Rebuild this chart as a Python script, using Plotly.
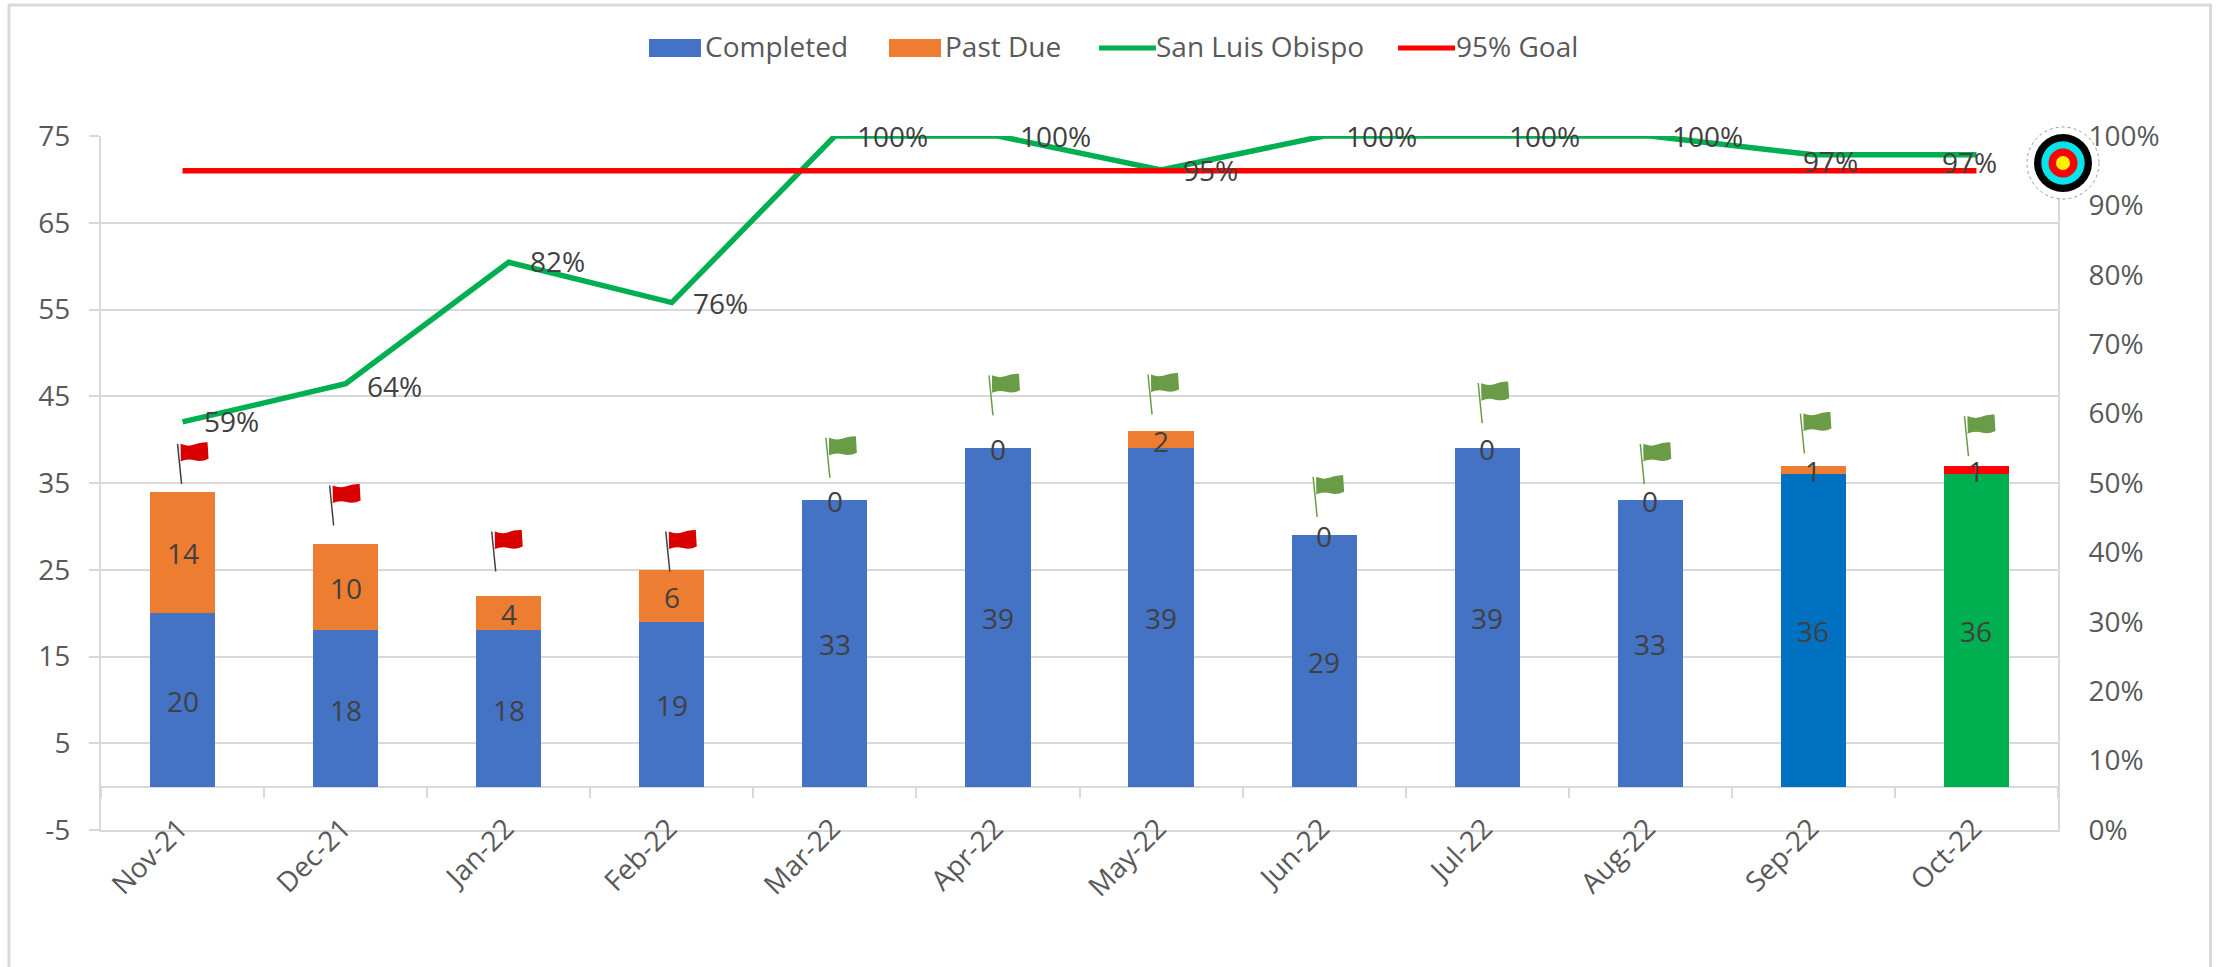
import plotly.graph_objects as go

months = ["Nov-21","Dec-21","Jan-22","Feb-22","Mar-22","Apr-22","May-22","Jun-22","Jul-22","Aug-22","Sep-22","Oct-22"]
completed = [20,18,18,19,33,39,39,29,39,33,36,36]
past_due = [14,10,4,6,0,0,2,0,0,0,1,1]
slo_pct = [58.8,64.3,81.8,76,100,100,95.1,100,100,100,97.3,97.3]
slo_labels = ["59%","64%","82%","76%","100%","100%","95%","100%","100%","100%","97%","97%"]
goal_pct = [95]*12
left_ticks = [-5,5,15,25,35,45,55,65,75]
left_tick_labels = ["-5","5","15","25","35","45","55","65","75"]
flag_level = [34.9,30.1,24.8,24.8,35.6,42.8,42.9,31.1,41.9,34.9,38.4,38.1]
flag_dx = [-1,-12,-13,-2,-5,-5,-9,-7,-5,-6,-9,-8]
flag_is_red = [True,True,True,True,False,False,False,False,False,False,False,False]
label_dx = [19,19,19,19,20,20,20,20,20,20,-12.5,-36.5]
label_dy = [1,-2,1,0,0,0,0,0,0,0,-6,-7]
completed_colors = ["#4472C4"]*10 + ["#0070C0","#00B050"]
past_due_colors = ["#ED7D31"]*11 + ["#FF0000"]

W, H = 2217, 967
L, R, T, B = 101, 2058, 136, 830
FONT = "Open Sans"
GRID = "#D9D9D9"
TICK = "#595959"
LABEL = "#404040"
FS = 28

def px(v): return (v - L) / (R - L)
def py(v): return (B - v) / (B - T)

fig = go.Figure()
fig.add_bar(x=months, y=completed, name="Completed", marker=dict(color=completed_colors, line_width=0), width=0.4)
fig.add_bar(x=months, y=past_due, name="Past Due", marker=dict(color=past_due_colors, line_width=0), width=0.4)
fig.add_scatter(x=months, y=slo_pct, name="San Luis Obispo", mode="lines", yaxis="y2",
                line=dict(color="#00B050", width=5.5))
fig.add_scatter(x=months, y=goal_pct, name="95% Goal", mode="lines", yaxis="y2",
                line=dict(color="#FF0000", width=5.5))
# carrier for the tick axis at y=0
fig.add_scatter(x=months, y=[0]*12, xaxis="x2", mode="markers", marker=dict(opacity=0), showlegend=False, hoverinfo="skip")

annotations = [dict(x=m, y=v, yref="y2", xref="x", text=t, showarrow=False, xanchor="left", yanchor="middle",
                    xshift=dx, yshift=dy, font=dict(family=FONT, size=FS, color=LABEL))
               for m, v, t, dx, dy in zip(months, slo_pct, slo_labels, label_dx, label_dy)]
bar_label = dict(xref="x", yref="y", showarrow=False, xanchor="center", yanchor="middle", yshift=-1,
                 font=dict(family=FONT, size=FS, color=LABEL))
for m, c, p in zip(months, completed, past_due):
    annotations.append(dict(x=m, y=c/2, text=str(c), **bar_label))
    annotations.append(dict(x=m, y=c+p/2, text=str(p), **bar_label))

shapes = [dict(type="rect", xref="paper", yref="paper", layer="below",
               x0=px(9), x1=px(2210.5), y0=py(H+10), y1=py(5), line=dict(color=GRID, width=3))]

def flag_shapes(m, lvl, dx, red):
    body = "#D90000" if red else "#6A9C48"
    pole = "#404040" if red else "#6A9C48"
    d = dict(xref="x", yref="y", xsizemode="pixel", ysizemode="pixel", xanchor=m, yanchor=lvl, layer="above")
    path_body = (f"M{dx-1},40 Q{dx+6},37 {dx+12},39 Q{dx+19},42 {dx+26},41.5 "
                 f"L{dx+27},25 Q{dx+20},21.5 {dx+13},23.5 Q{dx+6},25.5 {dx-1},22.5 Z")
    path_pole = f"M{dx-4},40 L{dx},0"
    path_shine = f"M{dx-2.5},39 L{dx-1.5},24"
    return [dict(type="path", path=path_body, fillcolor=body, line=dict(width=0), **d),
            dict(type="path", path=path_shine, line=dict(color="#FFFFFF", width=1.5), **d),
            dict(type="path", path=path_pole, line=dict(color=pole, width=1.5), **d)]

for m, lvl, dx, red in zip(months, flag_level, flag_dx, flag_is_red):
    shapes += flag_shapes(m, lvl, dx, red)

# archery target at the end of the goal line
cx, cy = px(2063), py(163)
for r, fill, lc, dash, lw in [(36,"#FFFFFF","#9A9A9A","dot",1),(29,"#000000","#000000","solid",0),
                              (21.7,"#00E5EE","#00E5EE","solid",0),(14.5,"#FF0000","#FF0000","solid",0),
                              (7,"#FFF000","#FFF000","solid",0)]:
    shapes.append(dict(type="circle", xref="paper", yref="paper", xsizemode="pixel", ysizemode="pixel",
                       xanchor=cx, yanchor=cy, x0=-r, x1=r, y0=-r, y1=r, fillcolor=fill, layer="above",
                       line=dict(color=lc, width=lw, dash=dash)))

# legend keys and names, laid out to the reference's proportions
for name, color, x0, x1, thick, tx in [("Completed","#4472C4",649,701,18,704),("Past Due","#ED7D31",889,941,18,944),
                                       ("San Luis Obispo","#00B050",1099,1156,5,1155),("95% Goal","#FF0000",1398,1455,5,1455)]:
    shapes.append(dict(type="rect", xref="paper", yref="paper", x0=px(x0), x1=px(x1), y0=py(48+thick/2), y1=py(48-thick/2),
                       fillcolor=color, line=dict(width=0), layer="above"))
    annotations.append(dict(xref="paper", yref="paper", x=px(tx), y=py(46.5), text=name, showarrow=False, xanchor="left",
                            yanchor="middle", font=dict(family=FONT, size=FS, color=TICK), borderpad=0))

fig.update_layout(
    width=W, height=H, autosize=False, barmode="stack", bargap=0.6, showlegend=False,
    paper_bgcolor="white", plot_bgcolor="white",
    margin=dict(l=L, r=W-R, t=T, b=H-B, pad=0),
    font=dict(family=FONT, size=FS, color=TICK),
    xaxis=dict(type="category", categoryorder="array", categoryarray=months, range=[-0.5, 11.5],
               showline=True, linecolor=GRID, linewidth=2, ticks="", showgrid=False, zeroline=False,
               tickangle=-45, ticklabelstandoff=-31, ticklabelshift=-3, tickfont=dict(family=FONT, size=FS, color=TICK)),
    xaxis2=dict(type="category", categoryorder="array", categoryarray=months, range=[-0.5, 11.5],
                overlaying="x", anchor="free", position=5/80,
                showline=False, ticks="outside", ticklen=10, tickwidth=2, tickcolor=GRID, tickson="boundaries",
                showticklabels=False, showgrid=False, zeroline=False),
    yaxis=dict(range=[-5, 75], tickvals=left_ticks, ticktext=left_tick_labels, showgrid=True, gridcolor=GRID, gridwidth=2,
               zeroline=True, zerolinecolor=GRID, zerolinewidth=2,
               showline=True, linecolor=GRID, linewidth=2, ticks="outside", ticklen=10, tickwidth=2, tickcolor=GRID,
               ticklabelstandoff=13, tickfont=dict(family=FONT, size=FS, color=TICK)),
    yaxis2=dict(range=[0, 100], tick0=0, dtick=10, ticksuffix="%", side="right", overlaying="y", anchor="x",
                showgrid=False, zeroline=False, showline=True, linecolor=GRID, linewidth=2, ticks="",
                ticklabelstandoff=23, tickfont=dict(family=FONT, size=FS, color=TICK)),
    annotations=annotations, shapes=shapes,
)

fig.write_html("out.html", post_script='document.body.style.margin="0";document.body.style.overflow="hidden";',
               config={"displayModeBar": False})
